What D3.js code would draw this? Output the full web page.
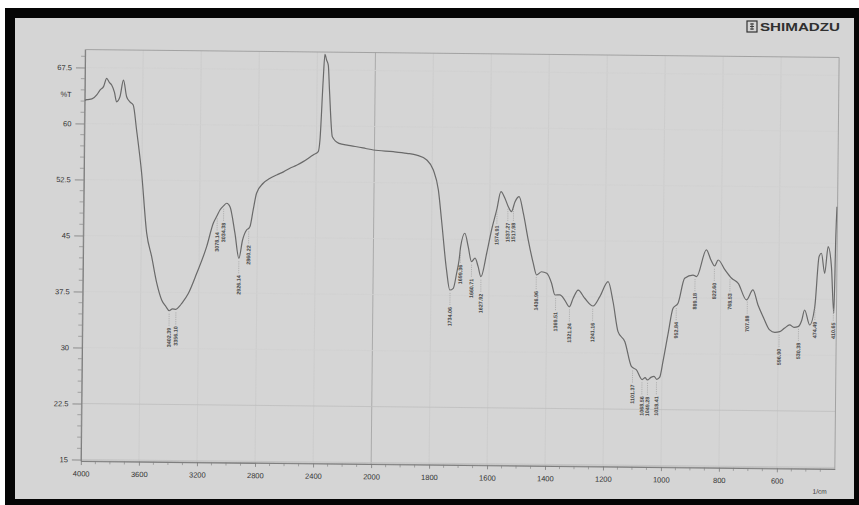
<!DOCTYPE html>
<html>
<head>
<meta charset="utf-8">
<script src="https://cdn.jsdelivr.net/npm/d3@7"></script>
<style>
  html, body { margin: 0; padding: 0; background: #ffffff; }
  svg { display: block; }
</style>
</head>
<body>
<svg id="chart" width="859" height="505"></svg>
<script>
// FTIR transmittance spectrum, wavenumber in 1/cm (descending)
const wavenumber = [
  4000, 3985, 3950, 3917, 3895, 3870, 3850, 3830, 3815, 3795, 3780, 3757, 3734, 3711, 3688, 3665,
  3640, 3602, 3563, 3527, 3490, 3455, 3425, 3402, 3380, 3356, 3330, 3317, 3272, 3216, 3149, 3105,
  3078, 3060, 3034, 3014, 2991, 2955, 2926, 2902, 2875, 2860, 2852, 2831, 2809, 2764, 2720, 2672,
  2625, 2581, 2535, 2490, 2422, 2387, 2376, 2358, 2348, 2336, 2324, 2314, 2291, 2245, 2180, 2122,
  2060, 2007, 1935, 1888, 1854, 1819, 1796, 1778, 1766, 1747, 1735, 1723, 1712, 1704, 1699, 1685,
  1673, 1661, 1649, 1638, 1628, 1609, 1593, 1576, 1562, 1548, 1536, 1525, 1513, 1499, 1484, 1466,
  1448, 1436, 1419, 1401, 1384, 1372, 1355, 1338, 1322, 1309, 1292, 1269, 1240, 1217, 1189, 1171,
  1153, 1129, 1105, 1088, 1068, 1058, 1050, 1038, 1027, 1018, 1008, 996, 980, 964, 947, 925,
  896, 884, 851, 835, 822, 810, 786, 763, 740, 711, 689, 671, 653, 630, 612, 595,
  578, 561, 546, 532, 520, 510, 492, 475, 462, 454, 442, 431, 419, 409, 405, 402
];
const transmittance = [
  63.1, 63.2, 63.3, 63.84, 64.5, 65.0, 66.07, 65.5, 65.19, 64.2, 62.95, 63.63, 65.87, 63.64, 62.97, 62.54,
  59.2, 53.42, 45.4, 42.26, 38.72, 36.48, 35.6, 35.05, 35.3, 35.25, 35.7, 36.04, 37.39, 40.07, 43.68, 46.82,
  47.9, 48.61, 49.2, 49.52, 49.07, 45.52, 42.17, 44.62, 45.97, 46.2, 46.43, 48.66, 50.9, 52.25, 52.9, 53.38,
  53.8, 54.3, 54.7, 55.2, 56.11, 56.56, 58.13, 66.17, 69.6, 68.84, 68.17, 64.83, 58.57, 57.7, 57.45, 57.27,
  57.05, 56.86, 56.66, 56.46, 56.24, 55.6, 54.26, 51.6, 47.58, 40.9, 38.22, 38.45, 40.47, 42.25, 44.03, 45.84,
  44.04, 42.04, 42.51, 41.38, 40.04, 43.19, 46.31, 49.0, 51.45, 50.58, 49.45, 48.8, 50.14, 50.82, 48.6, 45.02,
  41.92, 40.35, 40.79, 40.59, 39.26, 37.7, 37.71, 37.04, 36.14, 37.28, 38.39, 37.3, 36.28, 37.54, 39.55, 36.84,
  32.88, 31.54, 28.2, 27.78, 26.5, 26.75, 26.45, 26.8, 26.95, 26.55, 26.8, 29.14, 32.73, 36.08, 36.76, 40.12,
  40.56, 40.35, 43.94, 42.6, 41.8, 42.61, 41.29, 40.19, 39.52, 37.3, 38.65, 36.64, 35.09, 33.32, 33.0, 33.1,
  33.6, 34.02, 33.7, 33.8, 34.6, 36.04, 34.04, 36.49, 43.2, 43.66, 40.98, 44.55, 41.88, 35.64, 45.89, 49.92
];

// Picked peaks (1/cm)
const peakWavenumbers = [
  3402.39, 3356.10, 3078.14, 3034.38, 2926.14, 2860.22,
  1734.06, 1699.36, 1660.71, 1627.92, 1574.91, 1537.27, 1517.98, 1436.96, 1369.51, 1321.24, 1241.16,
  1101.37, 1068.56, 1049.28, 1018.41, 952.84, 889.18, 822.60, 768.53, 707.88,
  596.90, 530.38, 474.49, 410.65
];

const xTickValues = [4000, 3600, 3200, 2800, 2400, 2000, 1800, 1600, 1400, 1200, 1000, 800, 600];
const yTickValues = [15, 22.5, 30, 37.5, 45, 52.5, 60, 67.5];
const yAxisTitle = "%T";
const xAxisTitle = "1/cm";
const brand = "SHIMADZU";

const W = 859, H = 505;
const plot = { left: 83, right: 837, top: 53.5, bottom: 465 };
const font = "'Liberation Sans', Arial, sans-serif";

const svg = d3.select("#chart");

// paper photographed inside a black frame
svg.append("rect").attr("x", 0).attr("y", 0).attr("width", W).attr("height", H).attr("fill", "#ffffff");
svg.append("rect").attr("x", 5).attr("y", 8).attr("width", W - 5).attr("height", H - 8).attr("fill", "#050505");
svg.append("rect").attr("x", 15).attr("y", 18).attr("width", 839).attr("height", 481).attr("fill", "#d5d5d5");

// printout sits slightly askew on the scan
const g = svg.append("g").attr("transform", "rotate(0.6, 460, 259)");

// scale changes pitch at 2000 1/cm
const x = d3.scaleLinear()
  .domain([4000, 2000, 400])
  .range([plot.left, plot.left + (plot.right - plot.left) * 290.3 / 754, plot.right]);
const y = d3.scaleLinear().domain([14.8, 69.9]).range([plot.bottom, plot.top]);

// faint grid
g.append("g").selectAll("line").data(xTickValues).join("line")
  .attr("x1", d => x(d)).attr("x2", d => x(d))
  .attr("y1", plot.top).attr("y2", plot.bottom)
  .attr("stroke", d => d === 2000 ? "#aaaaaa" : "#cacaca")
  .attr("stroke-width", d => d === 2000 ? 1 : 0.8);
g.append("g").selectAll("line").data(yTickValues).join("line")
  .attr("x1", plot.left).attr("x2", plot.right)
  .attr("y1", d => y(d)).attr("y2", d => y(d))
  .attr("stroke", d => (d === 22.5 || d === 15) ? "#bebebe" : "#d1d1d1")
  .attr("stroke-width", 0.8);

// plot frame
g.append("rect")
  .attr("x", plot.left).attr("y", plot.top)
  .attr("width", plot.right - plot.left).attr("height", plot.bottom - plot.top)
  .attr("fill", "none").attr("stroke", "#9c9c9c").attr("stroke-width", 0.9);

// minor ticks
const yMinor = d3.range(15, 69.5, 1.5).filter(v => !yTickValues.some(t => Math.abs(t - v) < 0.01));
g.append("g").selectAll("line").data(yMinor).join("line")
  .attr("x1", plot.left - 4).attr("x2", plot.left)
  .attr("y1", d => y(d)).attr("y2", d => y(d))
  .attr("stroke", "#8a8a8a").attr("stroke-width", 0.7);
const xMinor = d3.range(3900, 2000, -100).concat(d3.range(1950, 400, -50))
  .filter(v => !xTickValues.includes(v));
g.append("g").selectAll("line").data(xMinor).join("line")
  .attr("x1", d => x(d)).attr("x2", d => x(d))
  .attr("y1", plot.bottom).attr("y2", plot.bottom + 3)
  .attr("stroke", "#8a8a8a").attr("stroke-width", 0.7);

// axes
const yAxis = g.append("g").attr("transform", `translate(${plot.left},0)`)
  .call(d3.axisLeft(y).tickValues(yTickValues).tickSize(9).tickSizeOuter(0).tickPadding(4)
    .tickFormat(d => String(d)));
const xAxis = g.append("g").attr("transform", `translate(0,${plot.bottom})`)
  .call(d3.axisBottom(x).tickValues(xTickValues).tickSize(4).tickSizeOuter(0).tickPadding(6)
    .tickFormat(d3.format("d")));
[yAxis, xAxis].forEach(a => {
  a.select(".domain").attr("stroke", "#7e7e7e").attr("stroke-width", 1);
  a.selectAll(".tick line").attr("stroke", "#7a7a7a").attr("stroke-width", 0.8);
  a.selectAll(".tick text")
    .attr("fill", "#333333")
    .style("font-family", font)
    .style("font-size", "7.5px");
});

g.append("text").attr("x", 70).attr("y", 101).attr("text-anchor", "end")
  .attr("fill", "#333333").style("font-family", font)
  .style("font-size", "7.5px").text(yAxisTitle);
g.append("text").attr("x", 822).attr("y", 490).attr("text-anchor", "middle")
  .attr("fill", "#333333").style("font-family", font)
  .style("font-size", "6.5px").text(xAxisTitle);

// spectrum
const clipId = "plot-clip";
g.append("clipPath").attr("id", clipId).append("rect")
  .attr("x", plot.left).attr("y", plot.top - 1)
  .attr("width", plot.right - plot.left).attr("height", plot.bottom - plot.top + 1);

const points = wavenumber.map((w, i) => [w, transmittance[i]]);
const line = d3.line().x(d => x(d[0])).y(d => y(d[1])).curve(d3.curveMonotoneX);
g.append("path").datum(points)
  .attr("clip-path", `url(#${clipId})`)
  .attr("d", line)
  .attr("fill", "none")
  .attr("stroke", "#6a6a6a")
  .attr("stroke-width", 1.2)
  .attr("stroke-linejoin", "round");

// peak annotations: dotted leader below the trace, value written vertically
const curveAt = d3.scaleLinear().domain(wavenumber).range(transmittance);
const peaks = g.append("g");
peakWavenumbers.forEach(p => {
  const px = x(p);
  const py = y(curveAt(p));
  peaks.append("line")
    .attr("x1", px).attr("x2", px)
    .attr("y1", py + 3).attr("y2", py + 16)
    .attr("stroke", "#9a9a9a").attr("stroke-width", 0.6)
    .attr("stroke-dasharray", "1.2,1");
  peaks.append("text")
    .attr("transform", `translate(${px},${py + 17}) rotate(-90)`)
    .attr("text-anchor", "end")
    .attr("dy", "0.35em")
    .attr("fill", "#4a4a4a")
    .style("font-family", font)
    .style("font-size", "5.4px")
    .style("font-weight", "bold")
    .text(p.toFixed(2));
});

// instrument mark, top right
const logo = svg.append("g").attr("transform", "translate(747,21)");
logo.append("rect").attr("x", 0).attr("y", 0).attr("width", 10).attr("height", 11)
  .attr("fill", "none").attr("stroke", "#333").attr("stroke-width", 1.2);
logo.append("path").attr("d", "M3,3 H7 M3,5.5 H7 M3,8 H7 M5,2 V9")
  .attr("stroke", "#333").attr("stroke-width", 0.9).attr("fill", "none");
svg.append("text").attr("x", 760).attr("y", 31)
  .attr("textLength", 80).attr("lengthAdjust", "spacingAndGlyphs")
  .attr("fill", "#303030")
  .style("font-family", font)
  .style("font-size", "11.5px").style("font-weight", "bold")
  .text(brand);
</script>
</body>
</html>
